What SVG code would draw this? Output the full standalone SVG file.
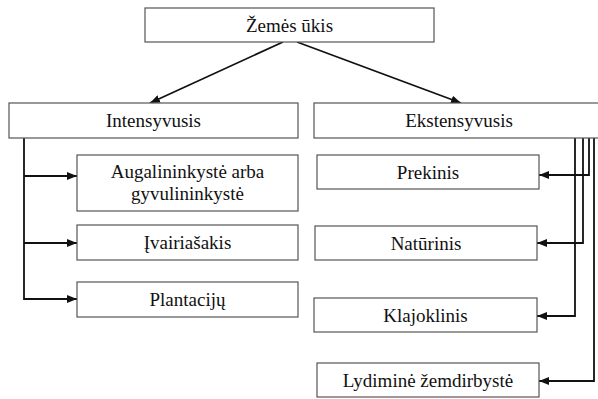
<svg xmlns="http://www.w3.org/2000/svg" width="598" height="399" viewBox="0 0 598 399">
<style>
.box{fill:#fff;stroke:#555;stroke-width:1.2}
.t{font-family:'Liberation Serif','DejaVu Serif',serif;font-size:19px;fill:#111;text-anchor:middle}
.c{fill:none;stroke:#111;stroke-width:1.8}
</style>
<defs>
<marker id="ah" viewBox="0 0 10 8" refX="10" refY="4" markerWidth="10" markerHeight="8" markerUnits="userSpaceOnUse" orient="auto">
<path d="M0,0 L10,4 L0,8 Z" fill="#111"/>
</marker>
</defs>
<rect width="598" height="399" fill="#fff"/>
<g id="connectors">
<path class="c" d="M283,42 L150,103" marker-end="url(#ah)"/>
<path class="c" d="M297,42 L461,103" marker-end="url(#ah)"/>
<path class="c" d="M24,138 L24,299 L77,299" marker-end="url(#ah)"/>
<path class="c" d="M24,176 L77,176" marker-end="url(#ah)"/>
<path class="c" d="M24,243 L77,243" marker-end="url(#ah)"/>
<path class="c" d="M589,138 L589,175 L539,175" marker-end="url(#ah)"/>
<path class="c" d="M583,138 L583,243 L537,243" marker-end="url(#ah)"/>
<path class="c" d="M575,138 L575,316 L537,316" marker-end="url(#ah)"/>
<path class="c" d="M594,138 L594,381 L539,381" marker-end="url(#ah)"/>
</g>
<g id="zemes-ukis"><rect class="box" x="145" y="8" width="289" height="34"/><text class="t" x="289.5" y="32">Žemės ūkis</text></g>
<g id="intensyvusis"><rect class="box" x="9" y="103" width="289" height="35"/><text class="t" x="153.5" y="127">Intensyvusis</text></g>
<g id="ekstensyvusis"><rect class="box" x="314" y="103" width="290" height="35"/><text class="t" x="459" y="127">Ekstensyvusis</text></g>
<g id="augalininkyste"><rect class="box" x="77" y="155" width="221" height="56"/><text class="t" x="187.5" y="178">Augalininkystė arba</text><text class="t" x="187.5" y="200">gyvulininkystė</text></g>
<g id="ivairiasakis"><rect class="box" x="77" y="225" width="221" height="35"/><text class="t" x="187.5" y="249">Įvairiašakis</text></g>
<g id="plantaciju"><rect class="box" x="77" y="282" width="221" height="35"/><text class="t" x="187.5" y="306">Plantacijų</text></g>
<g id="prekinis"><rect class="box" x="317" y="155" width="222" height="34"/><text class="t" x="428" y="179">Prekinis</text></g>
<g id="naturinis"><rect class="box" x="315" y="226" width="222" height="34"/><text class="t" x="426" y="250">Natūrinis</text></g>
<g id="klajoklinis"><rect class="box" x="314" y="298" width="223" height="34"/><text class="t" x="425.5" y="322">Klajoklinis</text></g>
<g id="lydimine"><rect class="box" x="317" y="363" width="222" height="34"/><text class="t" x="428" y="387">Lydiminė žemdirbystė</text></g>
</svg>
